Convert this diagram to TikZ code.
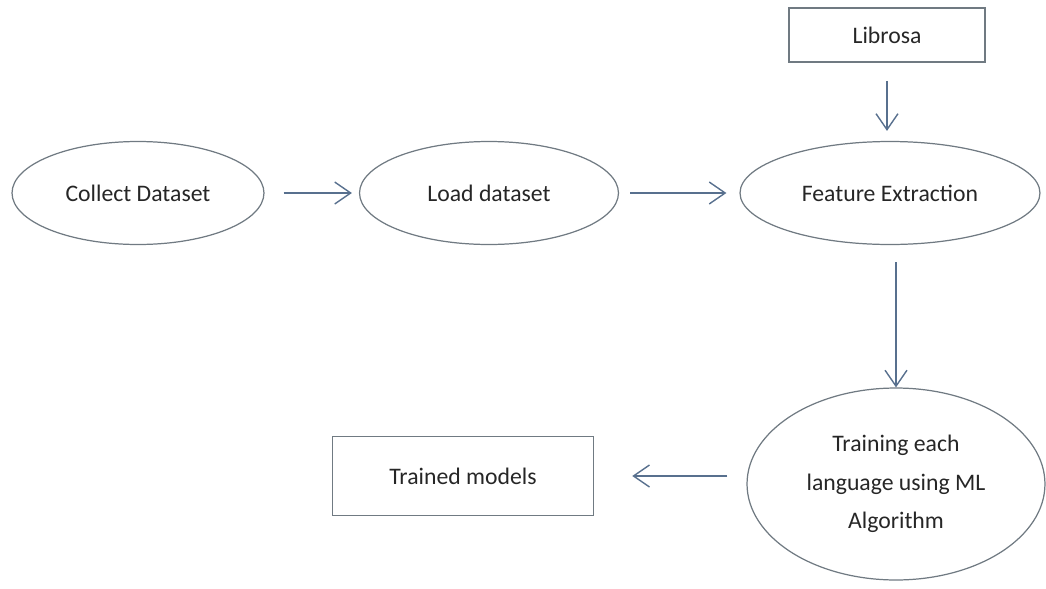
\documentclass[tikz,border=0pt]{standalone}
\usepackage{fontspec}
\setmainfont{Carlito}
\usetikzlibrary{shapes.geometric,arrows.meta}
\definecolor{edgegray}{RGB}{112,122,130}
\definecolor{flowblue}{RGB}{88,112,142}
\begin{document}
\begin{tikzpicture}[x=0.02cm,y=-0.02cm,
stage/.style={ellipse,draw=edgegray,line width=0.7pt,inner sep=1pt,font=\fontsize{13.5}{22}\selectfont,text=black!85},
tool/.style={rectangle,draw=edgegray,line width=0.9pt,inner sep=2pt,font=\fontsize{13.5}{16}\selectfont,text=black!85},
flow/.style={draw=flowblue,line width=0.8pt,-{Straight Barb[length=3.2mm,width=4.4mm,line width=0.8pt]}}
]
\useasboundingbox (0,0) rectangle (1046,589);
\node[stage,minimum width=5.04cm,minimum height=2.06cm] (cd) at (138,193) {Collect Dataset};
\node[stage,minimum width=5.18cm,minimum height=2.06cm] (ld) at (489,193) {Load dataset};
\node[stage,minimum width=6.0cm,minimum height=2.06cm] (fe) at (890,193) {Feature Extraction};
\node[tool,minimum width=3.92cm,minimum height=1.08cm] (lib) at (887,35) {Librosa};
\node[stage,align=center,minimum width=5.96cm,minimum height=3.84cm] (tr) at (896,484) {Training each\\language using ML\\Algorithm};
\node[tool,minimum width=5.22cm,minimum height=1.58cm] (tm) at (463,476) {Trained models};
\draw[flow,shorten <=3.8mm,shorten >=1.4mm] (cd.east) -- (ld.west);
\draw[flow,shorten <=2.2mm,shorten >=2.6mm] (ld.east) -- (fe.west);
\draw[flow,shorten <=3.6mm,shorten >=2mm] (lib.south) -- (lib.south |- fe.north);
\draw[flow,shorten <=3.4mm] (tr.north |- fe.south) -- (tr.north);
\draw[flow,shorten <=3.8mm,shorten >=7.6mm] (tr.west |- tm.east) -- (tm.east);
\end{tikzpicture}
\end{document}
